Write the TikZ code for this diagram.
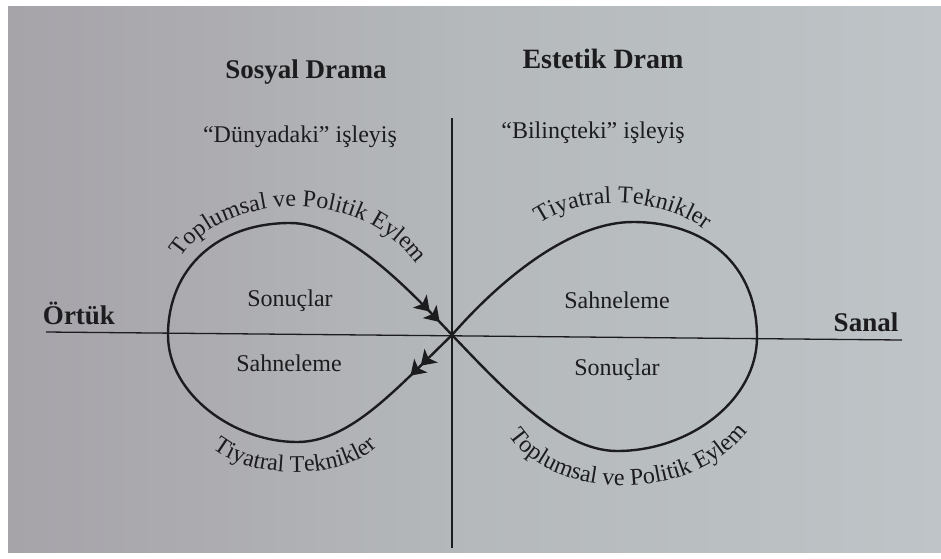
\documentclass[tikz,border=0pt]{standalone}
\usepackage{fontspec}
\setmainfont{Liberation Serif}
\usetikzlibrary{arrows.meta,decorations.text,decorations.markings}
\definecolor{ink}{RGB}{28,28,30}
\definecolor{bgL}{RGB}{166,163,169}
\definecolor{bgM}{RGB}{181,185,187}
\definecolor{bgR}{RGB}{190,196,199}
\begin{document}
\begin{tikzpicture}[x=1pt,y=-1pt,
  axisline/.style={draw=ink,line width=1.3pt},
  loopline/.style={draw=ink,line width=2.4pt},
  titletext/.style={text=ink,font=\fontsize{27}{32}\selectfont\bfseries,inner sep=0pt,anchor=base},
  bodytext/.style={text=ink,font=\fontsize{24}{28}\selectfont,inner sep=0pt,anchor=base},
  curvetext/.style={decorate,decoration={text along path,text align=center,text color=ink,
      text={|\fontsize{24}{28}\selectfont|#1}}},
  midarrow/.style={postaction={decorate},decoration={markings,mark=at position #1 with
      {\arrow[scale=2.2]{Stealth[length=6.5pt,width=8.5pt,inset=1.6pt] Stealth[length=6.5pt,width=8.5pt,inset=1.6pt,sep=-1pt]}}}}
]
\useasboundingbox (0,0) rectangle (941,558);
\fill[white] (0,0) rectangle (941,558);
\shade[left color=bgL,right color=bgR,middle color=bgM] (8,6) rectangle (941,552);

% axes
\coordinate (L) at (46,332);
\coordinate (R) at (902,340);
\coordinate (T) at (452,118);
\coordinate (B) at (452,548);
\coordinate (C) at (452,335);
\draw[axisline] (L) -- (R);
\draw[axisline] (T) -- (B);

% figure eight
\coordinate (LB) at (297,442);
\coordinate (LL) at (168,335);
\coordinate (LT) at (290,223);
\coordinate (RB) at (617,451);
\coordinate (RR) at (757,337);
\coordinate (RT) at (633,222);
\draw[loopline] (C) .. controls (500,385) and (560,451) .. (RB)
  .. controls (690,451) and (757,400) .. (RR)
  .. controls (757,264) and (705,222) .. (RT)
  .. controls (570,222) and (500,280) .. (C);
\draw[loopline,midarrow=0.29] (C) .. controls (395,390) and (350,442) .. (LB);
\draw[loopline] (LB) .. controls (235,442) and (168,395) .. (LL)
  .. controls (168,268) and (218,223) .. (LT);
\draw[loopline,midarrow=0.9] (LT) .. controls (345,223) and (405,285) .. (C);

% labels
\node[titletext] (sd) at (306,78) {Sosyal Drama};
\node[titletext,font=\fontsize{28}{32}\selectfont\bfseries] (ed) at (603,68) {Estetik Dram};
\node[bodytext] (dun) at (300,142) {“Dünyadaki” işleyiş};
\node[bodytext] (bil) at (593,138) {“Bilinçteki” işleyiş};
\node[titletext] (ort) at (79,324) {Örtük};
\node[titletext] (san) at (866,331) {Sanal};
\node[bodytext] (son1) at (290,306) {Sonuçlar};
\node[bodytext] (sah1) at (289,371) {Sahneleme};
\node[bodytext] (sah2) at (617,308) {Sahneleme};
\node[bodytext] (son2) at (617,375) {Sonuçlar};

% curved labels
\path[curvetext={Toplumsal ve Politik Eylem}] (180,260) .. controls (215,198) and (355,178) .. (418,266);
\path[curvetext={Tiyatral Teknikler}] (530,232) .. controls (565,195) and (665,190) .. (715,238);
\path[curvetext={Tiyatral Teknikler}] (210,446) .. controls (245,480) and (345,482) .. (380,444);
\path[curvetext={Toplumsal ve Politik Eylem}] (505,428) .. controls (545,505) and (700,505) .. (752,425);
\end{tikzpicture}
\end{document}
